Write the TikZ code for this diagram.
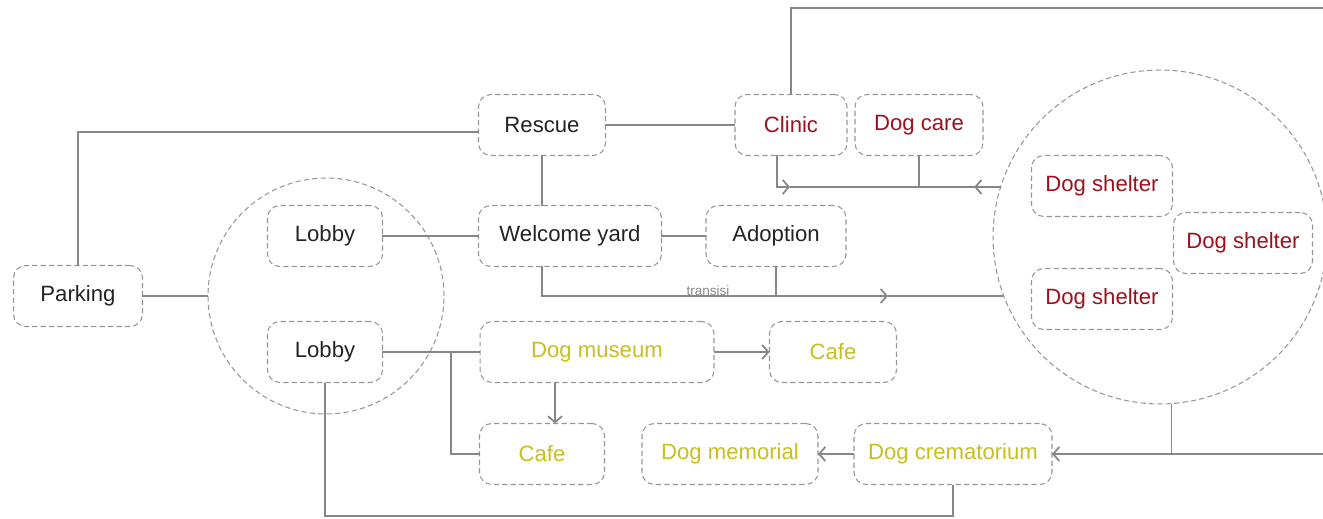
\documentclass[tikz,border=0pt]{standalone}
\usepackage{fontspec}
\setmainfont{Liberation Sans}
\usetikzlibrary{arrows.meta}
\definecolor{linegray}{RGB}{135,135,135}
\definecolor{boxgray}{RGB}{150,150,150}
\definecolor{carered}{RGB}{158,16,28}
\definecolor{memoryyellow}{RGB}{200,190,30}
\definecolor{plainblack}{RGB}{35,35,35}
\begin{document}
\begin{tikzpicture}[x=0.02cm,y=-0.02cm,
	every node/.style={align=center,font=\fontsize{12.6}{15}\selectfont,text=plainblack},
	room/.style={draw=boxgray,line width=0.6pt,dash pattern=on 3pt off 1.8pt,rounded corners=7pt,minimum height=1.22cm,inner sep=0pt,outer sep=0pt},
	zone/.style={circle,draw=boxgray,line width=0.6pt,dash pattern=on 3pt off 1.8pt,inner sep=0pt,outer sep=0pt},
	care/.style={room,text=carered},
	memory/.style={room,text=memoryyellow},
	link/.style={draw=linegray,line width=0.8pt},
	flow/.style={link,-{Straight Barb[length=3.5pt,width=8pt,line width=1pt]}}]
	\useasboundingbox (0,0) rectangle (1323,518);
	% zones
	\node[zone,minimum size=4.72cm] (entry) at (326,296) {};
	\node[zone,minimum size=6.68cm] (shelters) at (1160,237) {};
	% rooms
	\node[room,minimum width=2.58cm] (parking) at (78,296) {Parking};
	\node[room,minimum width=2.3cm] (lobbya) at (325,236) {Lobby};
	\node[room,minimum width=2.3cm] (lobbyb) at (325,352) {Lobby};
	\node[room,minimum width=2.54cm] (rescue) at (542,125) {Rescue};
	\node[room,minimum width=3.66cm] (welcome) at (570,236) {Welcome yard};
	\node[room,minimum width=2.8cm] (adoption) at (776,236) {Adoption};
	\node[care,minimum width=2.24cm] (clinic) at (791,125) {Clinic};
	\node[care,minimum width=2.56cm] (dogcare) at (919,125) {Dog care};
	\node[care,minimum width=2.82cm] (sheltera) at (1102,186) {Dog shelter};
	\node[care,minimum width=2.78cm] (shelterb) at (1243,243) {Dog shelter};
	\node[care,minimum width=2.82cm] (shelterc) at (1102,299) {Dog shelter};
	\node[memory,minimum width=4.68cm] (museum) at (597,352) {Dog museum};
	\node[memory,minimum width=2.54cm] (cafea) at (833,352) {Cafe};
	\node[memory,minimum width=2.5cm] (cafeb) at (542,454) {Cafe};
	\node[memory,minimum width=3.52cm] (memorial) at (730,454) {Dog memorial};
	\node[memory,minimum width=3.96cm] (crematorium) at (953,454) {Dog crematorium};
	% free ends
	\coordinate (topright) at (1323,8);
	\coordinate (carejoin) at (790,187);
	\coordinate (transit) at (888,296);
	\coordinate (fork) at (451,352);
	\coordinate (low) at (640,516);
	\coordinate (eastend) at (1323,454);
	% connectors
	\draw[link] (parking.north) |- ([yshift=-0.14cm]rescue.west);
	\draw[link] (parking.east) -- (parking.east -| entry.west);
	\draw[link] (rescue.east) -- (rescue.east -| clinic.west);
	\draw[link] (clinic.north) |- (topright);
	\draw[link] (rescue.south) -- (rescue |- welcome.north);
	\draw[link] (lobbya.east) -- (welcome.west);
	\draw[link] (welcome.east) -- (adoption.west);
	\draw[flow] ([xshift=-0.28cm]clinic.south) |- (carejoin);
	\draw[link] (carejoin) -- (carejoin -| shelters.162.6);
	\draw[flow] (carejoin -| shelters.162.6) -- ++(-27,0);
	\draw[link] (dogcare.south) -- (dogcare.south |- carejoin);
	\draw[flow] (rescue |- welcome.south) |- (transit);
	\draw[link] (transit) -- (transit -| shelters.200.7);
	\draw[link] (adoption.south) -- (adoption.south |- transit);
	\node[font=\fontsize{7.7}{9}\selectfont,text=linegray,inner sep=0pt] (transisi) at (708,291) {transisi};
	\draw[link] (lobbyb.east) -- (museum.west);
	\draw[link] (fork) |- (cafeb.west);
	\draw[flow] (museum.east) -- (cafea.west);
	\draw[flow] ([xshift=-0.84cm]museum.south) -- ([xshift=-0.84cm]museum.south |- cafeb.north);
	\draw[flow] (crematorium.west) -- (memorial.east);
	\draw[link] (lobbyb.south) |- (low) -| (crematorium.south);
	\draw[flow] (eastend) -- (crematorium.east);
	\draw[link] (shelters.-86) -- (shelters.-86 |- eastend);
\end{tikzpicture}
\end{document}
